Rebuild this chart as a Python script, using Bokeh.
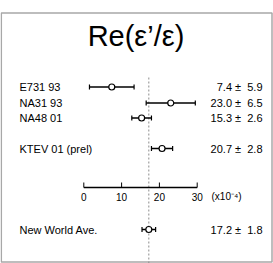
from bokeh.plotting import figure
from bokeh.models import Range1d
from bokeh.embed import file_html
from bokeh.resources import INLINE
from bokeh.core.properties import value

# ---- data ----
experiments = ["E731 93", "NA31 93", "NA48 01", "KTEV 01 (prel)"]
central = [7.4, 23.0, 15.3, 20.7]
errors = [5.9, 6.5, 2.6, 2.8]
avg_label = "New World Ave."
avg_value = 17.2
avg_error = 1.8
tick_values = [0, 10, 20, 30]
tick_labels = ["0", "10", "20", "30"]
title_text = "Re(\u03b5\u2019/\u03b5)"
unit_text = "(x10\u207b\u2074)"

# ---- layout (figure pixels) ----
W, H = 273, 263
X0_PX, PX_PER_UNIT = 83.3, 3.78
row_y = [86.5, 102.5, 117.5, 148]
avg_y = 229
axis_y = 187
FONT = value("Liberation Sans")


def px(sx):
    return (sx - X0_PX) / PX_PER_UNIT


p = figure(width=W, height=H, output_backend="svg", toolbar_location=None,
           x_range=Range1d(px(0), px(W)), y_range=Range1d(H, 0),
           x_axis_type=None, y_axis_type=None, min_border=0,
           outline_line_color=None)
p.grid.visible = False
p.background_fill_color = "white"
p.border_fill_color = "white"

# frame
p.quad(left=[px(0.8)], right=[px(271.5)], top=[12.5], bottom=[261.5],
       fill_color=None, line_color="#a8a8a8", line_width=1.5)

# title
p.text(x=[px(135.5)], y=[35.5], text=[title_text], text_font=FONT,
       text_font_size="29px", text_align="center", text_baseline="alphabetic",
       text_color="black")

# average dashed line
p.segment(x0=[avg_value], x1=[avg_value], y0=[77], y1=[H], line_color="#8c8c8c",
          line_width=1, line_dash="2 2")

# experiments
lo = [c - e for c, e in zip(central, errors)]
hi = [c + e for c, e in zip(central, errors)]
p.segment(x0=lo, x1=hi, y0=row_y, y1=row_y, line_color="black", line_width=1.5)
p.segment(x0=lo, x1=lo, y0=[y - 2.5 for y in row_y], y1=[y + 2.5 for y in row_y],
          line_color="black", line_width=1.2)
p.segment(x0=hi, x1=hi, y0=[y - 2.5 for y in row_y], y1=[y + 2.5 for y in row_y],
          line_color="black", line_width=1.2)
p.scatter(x=central, y=row_y, size=6, marker="circle", fill_color="white",
          line_color="black", line_width=1.2)
p.text(x=[px(19)] * len(experiments), y=row_y, text=experiments, text_font=FONT,
       text_font_size="11px", text_align="left", text_baseline="middle")
vals = [f"{c:.1f} \u00b1\u00a0\u00a0{e:.1f}" for c, e in zip(central, errors)]
p.text(x=[px(262)] * len(vals), y=row_y, text=vals, text_font=FONT,
       text_font_size="11px", text_align="right", text_baseline="middle")

# average
alo, ahi = avg_value - avg_error, avg_value + avg_error
p.segment(x0=[alo], x1=[ahi], y0=[avg_y], y1=[avg_y], line_color="black", line_width=1.5)
p.segment(x0=[alo, ahi], x1=[alo, ahi], y0=[avg_y - 2.5] * 2, y1=[avg_y + 2.5] * 2,
          line_color="black", line_width=1.2)
p.scatter(x=[avg_value], y=[avg_y], size=6, marker="circle", fill_color="white",
          line_color="black", line_width=1.2)
p.text(x=[px(19)], y=[avg_y], text=[avg_label], text_font=FONT,
       text_font_size="11px", text_align="left", text_baseline="middle")
p.text(x=[px(262)], y=[avg_y],
       text=[f"{avg_value:.1f} \u00b1\u00a0\u00a0{avg_error:.1f}"], text_font=FONT,
       text_font_size="11px", text_align="right", text_baseline="middle")

# scale axis drawn in the middle
p.segment(x0=[tick_values[0]], x1=[tick_values[-1]], y0=[axis_y], y1=[axis_y],
          line_color="black", line_width=1.5)
p.segment(x0=tick_values, x1=tick_values, y0=[axis_y - 5] * len(tick_values),
          y1=[axis_y] * len(tick_values), line_color="black", line_width=1)
p.text(x=tick_values, y=[axis_y + 9] * len(tick_values), text=tick_labels,
       text_font=FONT, text_font_size="10px", text_align="center",
       text_baseline="middle")
p.text(x=[px(211)], y=[axis_y + 9], text=[unit_text], text_font=FONT,
       text_font_size="10px", text_align="left", text_baseline="middle")

open("out.html", "w").write(file_html(p, INLINE))
